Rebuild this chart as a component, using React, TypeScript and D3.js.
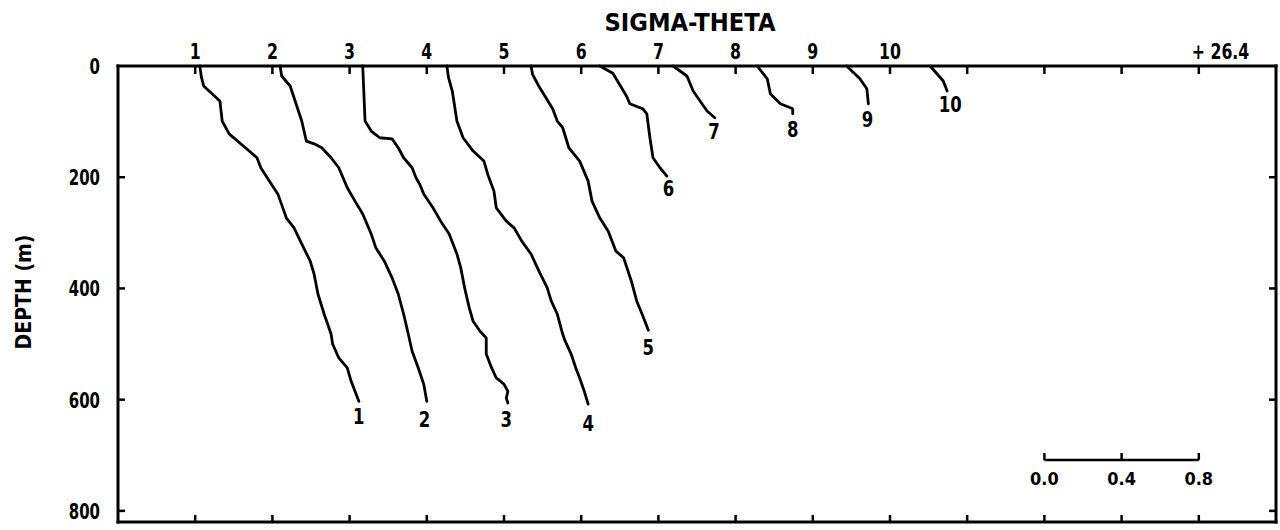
import React from "react";
import * as d3 from "d3";

// ---- data (x in station-offset units along the top axis; depth in m) ----
const profileIds = ["1", "2", "3", "4", "5", "6", "7", "8", "9", "10"];

const p1Depth = [0, 20, 36, 63, 99, 122, 147, 165, 183, 207, 230, 261, 273, 291, 320, 351, 374, 410, 446, 482, 500, 525, 543, 567, 585, 603];
const p1X = [1.06, 1.08, 1.11, 1.32, 1.35, 1.44, 1.65, 1.8, 1.85, 1.96, 2.07, 2.15, 2.18, 2.28, 2.38, 2.49, 2.54, 2.59, 2.67, 2.76, 2.78, 2.86, 2.97, 3.02, 3.07, 3.12];

const p2Depth = [0, 18, 36, 99, 135, 140, 147, 165, 183, 219, 243, 266, 302, 327, 351, 381, 410, 446, 482, 513, 543, 572, 603];
const p2X = [2.1, 2.12, 2.23, 2.38, 2.44, 2.54, 2.64, 2.76, 2.86, 2.97, 3.07, 3.17, 3.28, 3.34, 3.45, 3.55, 3.63, 3.7, 3.76, 3.81, 3.89, 3.96, 4.0];

const p3Depth = [0, 99, 117, 129, 131, 147, 165, 183, 201, 213, 230, 255, 279, 302, 338, 363, 399, 435, 459, 477, 489, 518, 543, 561, 572, 585, 597, 606];
const p3X = [3.17, 3.2, 3.28, 3.39, 3.55, 3.63, 3.7, 3.81, 3.86, 3.91, 3.96, 4.08, 4.18, 4.29, 4.39, 4.44, 4.49, 4.55, 4.6, 4.69, 4.77, 4.77, 4.84, 4.9, 5.0, 5.05, 5.03, 5.05];

const p4Depth = [0, 20, 45, 99, 129, 153, 171, 195, 225, 255, 279, 291, 315, 338, 368, 399, 422, 446, 482, 494, 518, 543, 561, 585, 608];
const p4X = [4.26, 4.28, 4.33, 4.39, 4.47, 4.6, 4.74, 4.79, 4.87, 4.9, 5.03, 5.13, 5.23, 5.35, 5.45, 5.56, 5.61, 5.69, 5.76, 5.79, 5.87, 5.93, 5.98, 6.04, 6.09];

const p5Depth = [0, 15, 36, 77, 99, 111, 147, 171, 207, 243, 273, 297, 333, 345, 387, 423, 450, 475];
const p5X = [5.35, 5.37, 5.45, 5.63, 5.69, 5.76, 5.84, 5.98, 6.09, 6.14, 6.24, 6.35, 6.45, 6.55, 6.65, 6.72, 6.8, 6.87];

const p6Depth = [0, 13, 55, 68, 77, 86, 129, 165, 183, 198];
const p6X = [6.24, 6.41, 6.59, 6.63, 6.8, 6.85, 6.89, 6.93, 7.02, 7.11];

const p7Depth = [0, 18, 45, 63, 81, 93];
const p7X = [7.19, 7.37, 7.45, 7.54, 7.63, 7.73];

const p8Depth = [0, 23, 50, 68, 77, 86];
const p8X = [8.28, 8.41, 8.45, 8.58, 8.74, 8.74];

const p9Depth = [0, 23, 41, 68];
const p9X = [9.44, 9.61, 9.7, 9.72];

const p10Depth = [0, 27, 45];
const p10X = [10.52, 10.69, 10.74];

// end labels: x units and depth
const labelX = [3.12, 3.97, 5.03, 6.09, 6.87, 7.13, 7.72, 8.74, 9.71, 10.78];
const labelDepth = [630, 635, 635, 642, 505, 220, 117, 113, 95, 68];

const topTickValues = [1, 2, 3, 4, 5, 6, 7, 8, 9, 10, 11, 12, 13, 14];
const topTickLabels = ["1", "2", "3", "4", "5", "6", "7", "8", "9", "10", "", "", "", "+ 26.4"];
const depthTicks = [0, 200, 400, 600, 800];
const scaleBarTicks = [12, 13, 14];
const scaleBarLabels = ["0.0", "0.4", "0.8"];

const FONT = "'DejaVu Sans', 'Liberation Sans', sans-serif";

function NarrowText(props: {
  x: number;
  y: number;
  size: number;
  sx: number;
  anchor: "start" | "middle" | "end";
  children: React.ReactNode;
}) {
  return (
    <g transform={`translate(${props.x},${props.y}) scale(${props.sx},1)`}>
      <text x={0} y={0} fontSize={props.size} fontWeight="bold" textAnchor={props.anchor} fill="#000">
        {props.children}
      </text>
    </g>
  );
}

export default function App() {
  const W = 1280;
  const H = 530;
  const x = d3.scaleLinear().domain([0, 15]).range([118, 1276]);
  const y = d3.scaleLinear().domain([0, 820]).range([66, 522]);

  const depths = [p1Depth, p2Depth, p3Depth, p4Depth, p5Depth, p6Depth, p7Depth, p8Depth, p9Depth, p10Depth];
  const xs = [p1X, p2X, p3X, p4X, p5X, p6X, p7X, p8X, p9X, p10X];
  const profiles = profileIds.map((id, i) => ({
    id,
    pts: depths[i].map((d, j) => [xs[i][j], d] as [number, number]),
    lx: labelX[i],
    ld: labelDepth[i],
  }));

  const line = d3
    .line<[number, number]>()
    .x((p) => x(p[0]))
    .y((p) => y(p[1]))
    .curve(d3.curveLinear);

  const x0 = x(0), x1 = x(15), y0 = y(0), y1 = y(820);

  return (
    <svg width={W} height={H} style={{ position: "absolute", left: 0, top: 0, background: "#fff" }} fontFamily={FONT}>
      <rect x={0} y={0} width={W} height={H} fill="#fff" />
      {/* frame */}
      <g stroke="#000" strokeWidth={3} fill="none" strokeLinecap="square">
        <line x1={x0} y1={y0} x2={x1} y2={y0} />
        <line x1={x0} y1={y1} x2={x1} y2={y1} />
        <line x1={x0} y1={y0} x2={x0} y2={y1} />
        <line x1={x1} y1={y0} x2={x1} y2={y1} />
      </g>
      {/* ticks */}
      <g stroke="#000" strokeWidth={2.5}>
        {topTickValues.map((v) => (
          <g key={"t" + v}>
            <line x1={x(v)} y1={y0} x2={x(v)} y2={y0 + 8} />
            <line x1={x(v)} y1={y1} x2={x(v)} y2={y1 - 7} />
          </g>
        ))}
        {depthTicks.filter((d) => d > 0).map((d) => (
          <g key={"d" + d}>
            <line x1={x0} y1={y(d)} x2={x0 + 7} y2={y(d)} />
            <line x1={x1} y1={y(d)} x2={x1 - 7} y2={y(d)} />
          </g>
        ))}
      </g>
      {/* top tick labels */}
      {topTickValues.map((v, i) =>
        topTickLabels[i] === "" ? null : topTickLabels[i].startsWith("+") ? (
          <NarrowText key={"tl" + v} x={x(v) - 7} y={y0 - 7} size={21} sx={0.75} anchor="start">
            {topTickLabels[i]}
          </NarrowText>
        ) : (
          <NarrowText key={"tl" + v} x={x(v)} y={y0 - 7} size={21} sx={0.75} anchor="middle">
            {topTickLabels[i]}
          </NarrowText>
        )
      )}
      {/* depth labels */}
      {depthTicks.map((d) => (
        <NarrowText key={"dl" + d} x={100} y={y(d) + 8} size={22} sx={0.68} anchor="end">
          {d}
        </NarrowText>
      ))}
      <text
        transform={`translate(31, 292) rotate(-90)`}
        textAnchor="middle"
        fontSize={22}
        fontWeight="bold"
        fill="#000"
        textLength={115}
        lengthAdjust="spacingAndGlyphs"
      >
        DEPTH (m)
      </text>
      <text x={690} y={31} textAnchor="middle" fontSize={24} fontWeight="bold" fill="#000" textLength={171} lengthAdjust="spacingAndGlyphs">
        SIGMA-THETA
      </text>
      {/* profiles */}
      <g fill="none" stroke="#000" strokeWidth={2.8} strokeLinejoin="round" strokeLinecap="round">
        {profiles.map((p) => (
          <path key={"p" + p.id} d={line(p.pts) || ""} />
        ))}
      </g>
      {profiles.map((p) => (
        <NarrowText key={"l" + p.id} x={x(p.lx)} y={y(p.ld) + 8} size={22} sx={0.75} anchor="middle">
          {p.id}
        </NarrowText>
      ))}
      {/* scale bar */}
      <g stroke="#000" strokeWidth={2.5}>
        <line x1={x(scaleBarTicks[0])} y1={460} x2={x(scaleBarTicks[2])} y2={460} />
        {scaleBarTicks.map((v) => (
          <line key={"sb" + v} x1={x(v)} y1={460} x2={x(v)} y2={453} />
        ))}
      </g>
      {scaleBarTicks.map((v, i) => (
        <NarrowText key={"sbl" + v} x={x(v)} y={485} size={18} sx={0.9} anchor="middle">
          {scaleBarLabels[i]}
        </NarrowText>
      ))}
    </svg>
  );
}
